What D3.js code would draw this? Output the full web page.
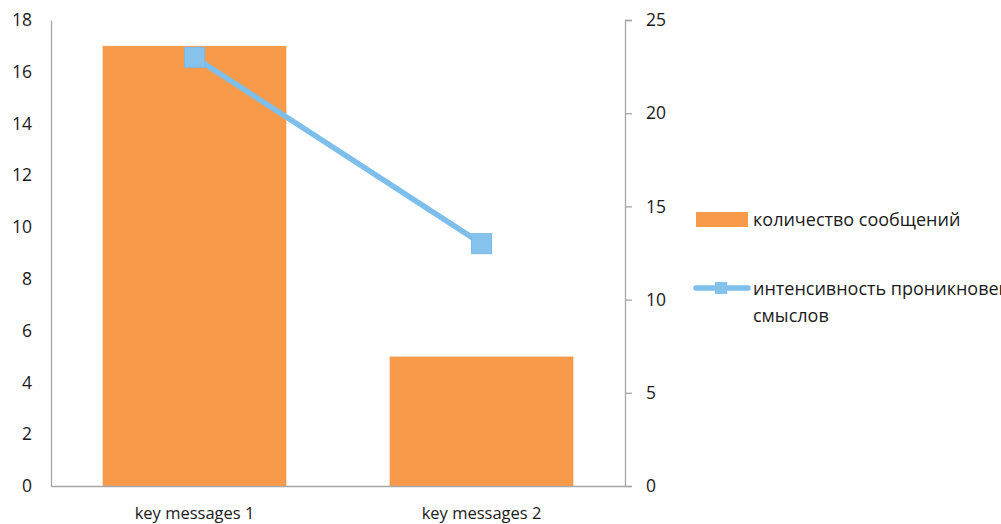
<!DOCTYPE html>
<html>
<head>
<meta charset="utf-8">
<script src="https://cdn.jsdelivr.net/npm/d3@7"></script>
<style>
  html, body { margin: 0; padding: 0; background: #ffffff; }
  svg { display: block; font-family: "Open Sans", sans-serif; }
</style>
</head>
<body>
<svg id="chart" width="1001" height="524"></svg>
<script>
// Chart data
const categories = ["key messages 1", "key messages 2"];
const messageCounts = [17, 5];          // количество сообщений (left axis)
const intensity = [23, 13];             // интенсивность проникновения смыслов (right axis)
const leftTicks = [0, 2, 4, 6, 8, 10, 12, 14, 16, 18];
const rightTicks = [0, 5, 10, 15, 20, 25];
const seriesNames = ["количество сообщений", "интенсивность проникновения", "смыслов"];

const barColor = "#F79B4B";
const lineColor = "#7DBFEA";
const markerColor = "#86C3EC";
const axisColor = "#A6A6A6";
const textColor = "#1a1a1a";
const fontFamily = "'Open Sans', sans-serif";
const tickFont = 17.5;
const catFont = 16.5;
const legendFont = 18;

const svg = d3.select("#chart");
const plot = { left: 51, right: 625, top: 20, bottom: 486 };

const x = d3.scaleBand().domain(categories).range([plot.left, plot.right]).paddingInner(0.36).paddingOuter(0.18);
const xCenter = d => x(d) + x.bandwidth() / 2;
const yLeft = d3.scaleLinear().domain([0, 18]).range([plot.bottom, plot.top]);
const yRight = d3.scaleLinear().domain([0, 25]).range([plot.bottom, plot.top]);

// Bars
svg.append("g").selectAll("rect").data(categories).join("rect")
  .attr("x", d => x(d))
  .attr("width", x.bandwidth())
  .attr("y", (d, i) => yLeft(messageCounts[i]))
  .attr("height", (d, i) => yLeft(0) - yLeft(messageCounts[i]))
  .attr("fill", barColor);

// Left axis
const leftAxis = svg.append("g").attr("transform", `translate(${plot.left},0)`)
  .call(d3.axisLeft(yLeft).tickValues(leftTicks).tickSize(0).tickPadding(19));
leftAxis.select(".domain").attr("stroke", axisColor).attr("stroke-width", 1.3);
leftAxis.selectAll("text").attr("font-size", tickFont).attr("fill", textColor).attr("font-family", fontFamily);

// Right axis
const rightAxis = svg.append("g").attr("transform", `translate(${plot.right},0)`)
  .call(d3.axisRight(yRight).tickValues(rightTicks).tickSize(7).tickPadding(14));
rightAxis.select(".domain").attr("stroke", axisColor).attr("stroke-width", 1.3);
rightAxis.selectAll(".tick line").attr("stroke", axisColor).attr("stroke-width", 1.3);
rightAxis.selectAll("text").attr("font-size", tickFont).attr("fill", textColor).attr("font-family", fontFamily);

// Bottom axis
const bottomAxis = svg.append("g").attr("transform", `translate(0,${plot.bottom})`)
  .call(d3.axisBottom(x).tickSize(0).tickPadding(21));
bottomAxis.select(".domain").attr("stroke", axisColor).attr("stroke-width", 1.3);
bottomAxis.selectAll("text").attr("font-size", catFont).attr("fill", textColor).attr("font-family", fontFamily);

// Line series with square markers
const line = d3.line().x((d, i) => xCenter(categories[i])).y(d => yRight(d));
svg.append("path").datum(intensity)
  .attr("d", line)
  .attr("fill", "none")
  .attr("stroke", lineColor)
  .attr("stroke-width", 5.5);
const mk = 20;
svg.append("g").selectAll("rect").data(intensity).join("rect")
  .attr("x", (d, i) => xCenter(categories[i]) - mk / 2)
  .attr("y", d => yRight(d) - mk / 2)
  .attr("width", mk).attr("height", mk)
  .attr("fill", markerColor)
  .attr("stroke", "#7BBBE6").attr("stroke-width", 1);

// Legend
const legend = svg.append("g").attr("font-family", fontFamily);
legend.append("rect").attr("x", 696).attr("y", 212).attr("width", 52).attr("height", 15).attr("fill", barColor);
legend.append("text").attr("x", 753).attr("y", 226).attr("font-size", legendFont).attr("fill", textColor)
  .text(seriesNames[0]);

legend.append("line").attr("x1", 696).attr("x2", 748).attr("y1", 288).attr("y2", 288)
  .attr("stroke", lineColor).attr("stroke-width", 5.5).attr("stroke-linecap", "round");
legend.append("rect").attr("x", 715).attr("y", 282).attr("width", 12).attr("height", 12).attr("fill", markerColor);
const lt = legend.append("text").attr("font-size", legendFont).attr("fill", textColor);
lt.append("tspan").attr("x", 753).attr("y", 295).text(seriesNames[1]);
lt.append("tspan").attr("x", 753).attr("y", 322).text(seriesNames[2]);
</script>
</body>
</html>
